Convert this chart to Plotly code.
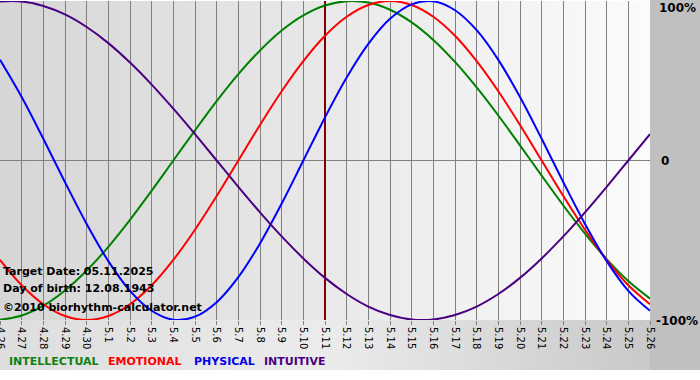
import plotly.graph_objects as go

# ---------------- data ----------------
days = ["4.26", "4.27", "4.28", "4.29", "4.30", "5.1", "5.2", "5.3", "5.4", "5.5",
        "5.6", "5.7", "5.8", "5.9", "5.10", "5.11", "5.12", "5.13", "5.14", "5.15",
        "5.16", "5.17", "5.18", "5.19", "5.20", "5.21", "5.22", "5.23", "5.24", "5.25", "5.26"]

intellectual = [-99.9, -97.2, -91.0, -81.5, -69.0, -54.1, -37.2, -18.9, 0.0, 18.9,
                37.2, 54.1, 69.0, 81.5, 91.0, 97.2, 99.9, 99.0, 94.5, 86.6,
                75.6, 61.8, 45.8, 28.2, 9.5, -9.5, -28.2, -45.8, -61.8, -75.6, -86.6]
emotional = [-62.3, -78.2, -90.1, -97.5, -100.0, -97.5, -90.1, -78.2, -62.3, -43.4,
             -22.3, 0.0, 22.3, 43.4, 62.3, 78.2, 90.1, 97.5, 100.0, 97.5,
             90.1, 78.2, 62.3, 43.4, 22.3, 0.0, -22.3, -43.4, -62.3, -78.2, -90.1]
physical = [63.1, 39.8, 13.6, -13.6, -39.8, -63.1, -81.7, -94.2, -99.8, -97.9,
            -88.8, -73.1, -52.0, -27.0, 0.0, 27.0, 52.0, 73.1, 88.8, 97.9,
            99.8, 94.2, 81.7, 63.1, 39.8, 13.6, -13.6, -39.8, -63.1, -81.7, -94.2]
intuitive = [99.7, 99.7, 96.9, 91.6, 83.7, 73.6, 61.4, 47.6, 32.5, 16.5,
             0.0, -16.5, -32.5, -47.6, -61.4, -73.6, -83.7, -91.6, -96.9, -99.7,
             -99.7, -96.9, -91.6, -83.7, -73.6, -61.4, -47.6, -32.5, -16.5, 0.0, 16.5]

series_names = ["INTELLECTUAL", "EMOTIONAL", "PHYSICAL", "INTUITIVE"]
series_colors = ["#008000", "#ff0000", "#0000ff", "#4b0082"]
legend_colors = ["#108010", "#ff0000", "#0000ee", "#4b0082"]

target_day = "5.11"
y_ticks = [100, 0, -100]
y_tick_text = ["100%", "0", "-100%"]
info_lines = ["Target Date: 05.11.2025", "Day of birth: 12.08.1943", "\u00a92010 biorhythm-calculator.net"]

# ---------------- layout geometry ----------------
W, H = 700, 380
ML, MR, MT, MB = 0, 50, 1, 60
PW, PH = W - ML - MR, H - MT - MB


def px(xp):
    return (xp - ML) / PW


def py(yp):
    return (H - MB - yp) / PH


def lerp_gray(a, b, t):
    v = int(round(a + (b - a) * t))
    return f"rgb({v},{v},{v})"


shapes = []
# plot-area horizontal gradient
n = 130
for i in range(n):
    x0 = i * PW / n
    x1 = (i + 1) * PW / n + 0.6
    shapes.append(dict(type="rect", xref="paper", yref="paper",
                       x0=px(x0), x1=px(min(x1, PW)), y0=0, y1=1,
                       fillcolor=lerp_gray(214, 251, i / (n - 1)),
                       line=dict(width=0), layer="below"))
# bottom strip gradient
nb = 70
for i in range(nb):
    x0 = i * PW / nb
    x1 = (i + 1) * PW / nb + 0.6
    t = i / (nb - 1)
    if t < 0.5:
        g = 222 + (236 - 222) * (t / 0.5)
    else:
        g = 236 + (202 - 236) * ((t - 0.5) / 0.5)
    shapes.append(dict(type="rect", xref="paper", yref="paper",
                       x0=px(x0), x1=px(min(x1, PW)), y0=py(370), y1=py(320),
                       fillcolor=f"rgb({int(g)},{int(g)},{int(g)})",
                       line=dict(width=0), layer="below"))
# right margin
shapes.append(dict(type="rect", xref="paper", yref="paper",
                   x0=px(PW), x1=px(W), y0=py(370), y1=py(0),
                   fillcolor="#c0c0c0", line=dict(width=0), layer="below"))

fig = go.Figure()

# target date marker (drawn underneath the curves)
fig.add_trace(go.Scatter(x=[target_day, target_day], y=[-100, 100], mode="lines",
                         line=dict(color="#800000", width=2), hoverinfo="skip",
                         showlegend=False, cliponaxis=False))

for name, vals, col in zip(series_names, [intellectual, emotional, physical, intuitive], series_colors):
    fig.add_trace(go.Scatter(x=days, y=vals, mode="lines", name=name,
                             line=dict(color=col, width=2, shape="spline", smoothing=1.0),
                             showlegend=False))

annotations = []
# y-axis labels on the right
for v, t in zip(y_ticks, y_tick_text):
    if v == 100:
        yp, xp = 8, 657
    elif v == 0:
        yp, xp = 161, 659
    else:
        yp, xp = 321, 654
    annotations.append(dict(x=px(xp), y=py(yp), xref="paper", yref="paper",
                            xanchor="left", yanchor="middle", showarrow=False, text=f"<b>{t}</b>",
                            font=dict(family="DejaVu Sans", size=12, color="#000000")))
# info text
for txt, yp in zip(info_lines, [271, 288, 307]):
    annotations.append(dict(x=px(1), y=py(yp), xref="paper", yref="paper",
                            xanchor="left", yanchor="middle", showarrow=False, text=f"<b>{txt}</b>",
                            font=dict(family="DejaVu Sans", size=11, color="#000000")))
# legend text
for name, col, xp in zip(series_names, legend_colors, [7, 106, 192, 262]):
    annotations.append(dict(x=px(xp), y=py(361), xref="paper", yref="paper",
                            xanchor="left", yanchor="middle", showarrow=False, text=f"<b>{name}</b>",
                            font=dict(family="DejaVu Sans", size=11, color=col)))

fig.update_layout(
    width=W, height=H,
    margin=dict(l=ML, r=MR, t=MT, b=MB, pad=0, autoexpand=False),
    paper_bgcolor="#ffffff",
    plot_bgcolor="rgba(0,0,0,0)",
    shapes=shapes,
    annotations=annotations,
    showlegend=False,
    xaxis=dict(type="category", categoryorder="array", categoryarray=days,
               range=[0, len(days) - 1], showgrid=True, automargin=False,
               gridcolor="#808080", gridwidth=1, zeroline=False, showline=False,
               ticks="outside", ticklen=4, tickcolor="#808080", tickangle=90,
               tickfont=dict(family="DejaVu Sans", size=10, color="#000000"),
               fixedrange=True),
    yaxis=dict(range=[-100, 100], tickvals=[0], showticklabels=False, showgrid=True,
               automargin=False,
               gridcolor="#808080", gridwidth=1, zeroline=False, showline=False,
               ticks="", fixedrange=True),
)

fig.write_html("out.html", config={"displayModeBar": False},
               post_script="document.body.style.margin='0';document.body.style.overflow='hidden';")
